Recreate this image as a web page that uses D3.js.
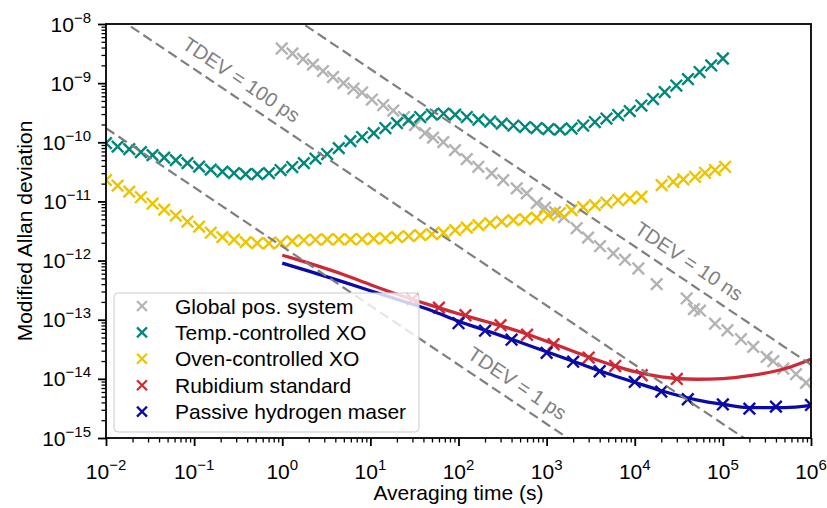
<!DOCTYPE html>
<html><head><meta charset="utf-8">
<script src="https://cdn.jsdelivr.net/npm/d3@7"></script>
<style>
body{margin:0;background:#fff}
svg{display:block}
text{font-family:"Liberation Sans",Arial,Helvetica,sans-serif;fill:#000}
</style>
</head><body>
<svg id="chart" width="827" height="508"></svg>
<script>
// ---------------- DATA ----------------
const seriesNames = ["Global pos. system","Temp.-controlled XO","Oven-controlled XO","Rubidium standard","Passive hydrogen maser"];
const seriesColors = ["#b3b3b3","#00877a","#ecc500","#cc2a36","#0a0aa8"];

const gpsTau = [0.986,1.307,1.72,2.23,2.90,3.77,4.96,6.43,8.04,10.4,14.0,18.2,24.1,32.1,41.7,51.4,67.2,91.3,124,168,238,322,458,594,772,958,1245,1574,2193,2948,4034,5710,7745,10970,17740,38860,47000,55010,81450,112800,160600,221300,314000,373500,485000,676000,878000];
const gpsVal = [3.85e-9,3.17e-9,2.56e-9,2.06e-9,1.60e-9,1.27e-9,1.00e-9,8.1e-10,6.93e-10,5.28e-10,4.26e-10,3.44e-10,2.67e-10,1.95e-10,1.43e-10,1.20e-10,1.008e-10,7.38e-11,5.2e-11,3.85e-11,2.98e-11,2.29e-11,1.66e-11,1.37e-11,9.36e-12,7.85e-12,6.59e-12,5.42e-12,3.53e-12,2.44e-12,1.75e-12,1.32e-12,1.035e-12,7.35e-13,3.99e-13,2.29e-13,1.51e-13,1.42e-13,8.56e-14,6.64e-14,4.68e-14,3.47e-14,2.35e-14,1.99e-14,1.49e-14,1.20e-14,8.59e-15];

const tcxoTau = [0.01,0.01355,0.01836,0.02489,0.03374,0.04573,0.06199,0.08403,0.1139,0.1544,0.2093,0.2836,0.3845,0.5212,0.7065,0.9575,1.298,1.759,2.384,3.232,4.381,5.938,8.049,10.91,14.79,20.04,27.16,36.81,49.89,67.62,91.67,124.2,168.4,228.3,309.5,419.5,568.6,770.7,1045,1416,1919,2601,3526,4779,6478,8780,11900,16130,21860,29630,40170,54440,73790,100000];
const tcxoVal = [9.69e-11,8.45e-11,7.67e-11,6.83e-11,6.07e-11,5.51e-11,5.0e-11,4.45e-11,3.88e-11,3.45e-11,3.19e-11,3.01e-11,2.90e-11,2.90e-11,3.01e-11,3.39e-11,3.81e-11,4.45e-11,5.30e-11,6.32e-11,7.97e-11,1.048e-10,1.225e-10,1.43e-10,1.74e-10,2.11e-10,2.38e-10,2.67e-10,2.94e-10,3.06e-10,2.94e-10,2.67e-10,2.42e-10,2.24e-10,2.07e-10,1.92e-10,1.81e-10,1.74e-10,1.67e-10,1.64e-10,1.71e-10,1.92e-10,2.20e-10,2.52e-10,2.89e-10,3.37e-10,4.18e-10,5.38e-10,7.07e-10,9.11e-10,1.17e-9,1.54e-9,1.99e-9,2.61e-9];

const ocxoTau = [0.01,0.01355,0.01836,0.02489,0.03374,0.04573,0.06199,0.08403,0.1139,0.1544,0.2093,0.2836,0.3845,0.5212,0.7065,0.9575,1.298,1.759,2.384,3.232,4.381,5.938,8.049,10.91,14.79,20.04,27.16,36.81,49.89,67.62,91.67,124.2,168.4,228.3,309.5,419.5,568.6,770.7,1045,1416,1919,2601,3526,4779,6478,8780,11900,20200,27400,35600,48300,62700,81400,106000];
const ocxoVal = [2.29e-11,1.85e-11,1.465e-11,1.18e-11,9.18e-12,7.27e-12,5.75e-12,4.55e-12,3.75e-12,2.96e-12,2.49e-12,2.26e-12,2.05e-12,1.97e-12,1.95e-12,2.01e-12,2.13e-12,2.21e-12,2.26e-12,2.28e-12,2.28e-12,2.28e-12,2.30e-12,2.35e-12,2.39e-12,2.49e-12,2.59e-12,2.69e-12,2.80e-12,2.96e-12,3.27e-12,3.60e-12,3.97e-12,4.29e-12,4.55e-12,4.83e-12,5.02e-12,5.32e-12,5.86e-12,6.34e-12,7.13e-12,8.01e-12,8.66e-12,9.54e-12,1.05e-11,1.12e-11,1.20e-11,1.89e-11,2.15e-11,2.36e-11,2.61e-11,3.05e-11,3.39e-11,3.85e-11];

const rbTau = [30,60,120,300,600,1200,3000,6000,12000,30000];
const rbVal = [2.22e-13,1.60e-13,1.19e-13,8.07e-14,5.57e-14,3.85e-14,2.29e-14,1.65e-14,1.15e-14,9.96e-15];
const rbFitTau = [1,2,5,10,20,50,100,200,500,1e3,2e3,5e3,1e4,2e4,5e4,1e5,2e5,5e5,1e6];
const rbFitVal = [1.234e-12,9.04e-13,5.77e-13,3.91e-13,2.70e-13,1.73e-13,1.26e-13,9.43e-14,6.27e-14,4.33e-14,2.93e-14,1.80e-14,1.32e-14,1.085e-14,9.84e-15,1.01e-14,1.13e-14,1.48e-14,2.15e-14];

const hmTau = [100,200,400,1000,2000,4000,1e4,2e4,4e4,1e5,2e5,4e5,1e6];
const hmVal = [8.73e-14,6.52e-14,4.59e-14,2.76e-14,1.95e-14,1.345e-14,8.86e-15,6.10e-15,4.52e-15,3.69e-15,3.14e-15,3.39e-15,3.62e-15];
const hmFitTau = [1,2,5,10,20,50,100,200,500,1e3,2e3,5e3,1e4,2e4,5e4,1e5,2e5,5e5,1e6];
const hmFitVal = [9.04e-13,6.62e-13,4.31e-13,3.09e-13,2.22e-13,1.42e-13,9.43e-14,6.64e-14,4.16e-14,2.87e-14,1.985e-14,1.22e-14,8.76e-15,6.29e-15,4.43e-15,3.72e-15,3.27e-15,3.27e-15,3.57e-15];

// TDEV reference lines (seconds) and their labels
const tdevValues = [1e-12, 1e-10, 1e-8];
const tdevLabels = ["TDEV = 1 ps","TDEV = 100 ps","TDEV = 10 ns"];
const tdevLabelAt = [[467, 8.42e-15],[0.345, 1.15e-9],[41270, 9.77e-13]];

const xTickExps = [-2,-1,0,1,2,3,4,5,6];
const yTickExps = [-15,-14,-13,-12,-11,-10,-9,-8];
const xLabel = "Averaging time (s)";
const yLabel = "Modified Allan deviation";

// ---------------- CHART ----------------
const svg = d3.select("#chart");
const M = {l:106, r:811, t:24, b:438};
const x = d3.scaleLog().domain([1e-2,1e6]).range([M.l,M.r]);
const y = d3.scaleLog().domain([1e-15,1e-8]).range([M.b,M.t]);

svg.append("rect").attr("width",827).attr("height",508).attr("fill","#fff");
svg.append("defs").append("clipPath").attr("id","clip")
  .append("rect").attr("x",M.l).attr("y",M.t).attr("width",M.r-M.l).attr("height",M.b-M.t);

function minors(lo, hi){ const a=[]; for(let e=lo;e<hi;e++) for(let k=2;k<=9;k++) a.push(k*Math.pow(10,e)); return a; }

function styleAxis(g, w){
  g.select(".domain").remove();
  g.selectAll(".tick line").attr("stroke","#000").attr("stroke-width",w);
  g.selectAll(".tick text").remove();
}
const gx = svg.append("g").attr("transform",`translate(0,${M.b})`);
gx.call(d3.axisBottom(x).tickValues(xTickExps.map(e=>Math.pow(10,e))).tickSize(8)).call(g=>styleAxis(g,1.8));
const gxm = svg.append("g").attr("transform",`translate(0,${M.b})`);
gxm.call(d3.axisBottom(x).tickValues(minors(-2,6)).tickSize(4.5)).call(g=>styleAxis(g,1.3));
const gy = svg.append("g").attr("transform",`translate(${M.l},0)`);
gy.call(d3.axisLeft(y).tickValues(yTickExps.map(e=>Math.pow(10,e))).tickSize(8)).call(g=>styleAxis(g,1.8));
const gym = svg.append("g").attr("transform",`translate(${M.l},0)`);
gym.call(d3.axisLeft(y).tickValues(minors(-15,-8)).tickSize(4.5)).call(g=>styleAxis(g,1.3));

function expText(sel, e){
  sel.append("tspan").text("10");
  sel.append("tspan").attr("font-size",15).attr("dy",-9).text(e<0 ? "\u2212"+(-e) : String(e));
}
xTickExps.forEach(e=>{
  const t = svg.append("text").attr("x",x(Math.pow(10,e))).attr("y",479)
    .attr("text-anchor","middle").attr("font-size",21);
  expText(t,e);
});
yTickExps.forEach(e=>{
  const t = svg.append("text").attr("x",91).attr("y",y(Math.pow(10,e))+7.5)
    .attr("text-anchor","end").attr("font-size",21);
  expText(t,e);
});

svg.append("text").attr("x",(M.l+M.r)/2).attr("y",500).attr("text-anchor","middle")
  .attr("font-size",21).text(xLabel);
svg.append("text").attr("transform",`translate(31.5,${(M.t+M.b)/2}) rotate(-90)`)
  .attr("text-anchor","middle").attr("font-size",21).text(yLabel);

const plot = svg.append("g").attr("clip-path","url(#clip)");

const S = 5.8;
function drawX(g, px, py, color, s, w){
  g.append("path").attr("d",`M${px-s},${py-s}L${px+s},${py+s}M${px-s},${py+s}L${px+s},${py-s}`)
   .attr("stroke",color).attr("stroke-width",w).attr("fill","none");
}
function markers(tau, val, color){
  tau.forEach((t,i)=>drawX(plot, x(t), y(val[i]), color, S, 2.4));
}
const line = d3.line().x(d=>x(d[0])).y(d=>y(d[1])).curve(d3.curveMonotoneX);

markers(gpsTau, gpsVal, seriesColors[0]);
markers(tcxoTau, tcxoVal, seriesColors[1]);
markers(ocxoTau, ocxoVal, seriesColors[2]);
plot.append("path").attr("d", line(rbFitTau.map((t,i)=>[t,rbFitVal[i]])))
  .attr("fill","none").attr("stroke",seriesColors[3]).attr("stroke-width",3.3);
markers(rbTau, rbVal, seriesColors[3]);
plot.append("path").attr("d", line(hmFitTau.map((t,i)=>[t,hmFitVal[i]])))
  .attr("fill","none").attr("stroke",seriesColors[4]).attr("stroke-width",3.3);
markers(hmTau, hmVal, seriesColors[4]);

// TDEV lines: MDEV = sqrt(3) * TDEV / tau
const tauEnds = [1e-2, 1e6];
tdevValues.forEach(td=>{
  plot.append("path").attr("d", d3.line()(tauEnds.map(t=>[x(t), y(Math.sqrt(3)*td/t)])))
    .attr("stroke","#7f7f7f").attr("stroke-width",2.2).attr("stroke-dasharray","10,5").attr("fill","none");
});
const ang = Math.atan2(y(1e-9)-y(1e-8), x(10)-x(1))*180/Math.PI;
tdevLabels.forEach((lab,i)=>{
  const px = x(tdevLabelAt[i][0]), py = y(tdevLabelAt[i][1]);
  svg.append("text").attr("transform",`translate(${px},${py}) rotate(${ang})`)
    .attr("text-anchor","middle").attr("dominant-baseline","central")
    .attr("font-size",20).style("fill","#808080").text(lab);
});

// frame
svg.append("rect").attr("x",M.l).attr("y",M.t).attr("width",M.r-M.l).attr("height",M.b-M.t)
  .attr("fill","none").attr("stroke","#000").attr("stroke-width",1.8);

// legend
const lg = svg.append("g");
lg.append("rect").attr("x",114).attr("y",293).attr("width",305).attr("height",139).attr("rx",4)
  .attr("fill","#fff").attr("fill-opacity",0.8).attr("stroke","#cccccc").attr("stroke-width",1);
seriesNames.forEach((n,i)=>{
  const cy = 306 + i*26.4;
  drawX(lg, 142, cy, seriesColors[i], 5, 2.2);
  lg.append("text").attr("x",175).attr("y",cy+7.5).attr("font-size",21).text(n);
});
</script>
</body></html>
